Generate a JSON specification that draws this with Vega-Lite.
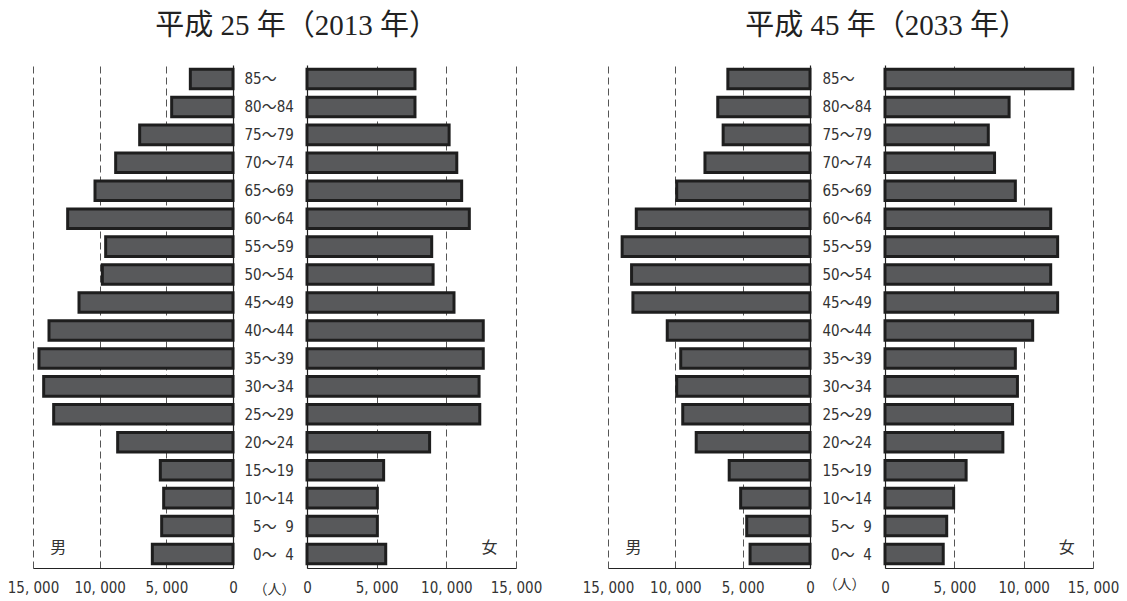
{
  "$schema": "https://vega.github.io/schema/vega-lite/v6.json",
  "background": "white",
  "padding": {"left": 7, "top": 12, "right": 5, "bottom": 5},
  "config": {
    "view": {"stroke": null},
    "axis": {
      "labelFont": "Liberation Sans Narrow, DejaVu Sans Condensed, Noto Sans CJK JP",
      "labelFontSize": 15,
      "labelColor": "#333333",
      "domainColor": "#222222",
      "domainWidth": 1.2,
      "tickColor": "#777777",
      "gridColor": "#555555",
      "gridDash": [7, 4],
      "gridWidth": 1
    },
    "title": {
      "font": "Liberation Serif, Noto Sans CJK JP",
      "fontSize": 29,
      "fontWeight": "normal",
      "color": "#222222",
      "anchor": "middle",
      "offset": 17
    }
  },
  "datasets": {
    "pop": [
      {"year": "2013", "sex": "男", "age": "85～", "pop": 3200},
      {"year": "2013", "sex": "男", "age": "80～84", "pop": 4600},
      {"year": "2013", "sex": "男", "age": "75～79", "pop": 7000},
      {"year": "2013", "sex": "男", "age": "70～74", "pop": 8800},
      {"year": "2013", "sex": "男", "age": "65～69", "pop": 10350},
      {"year": "2013", "sex": "男", "age": "60～64", "pop": 12400},
      {"year": "2013", "sex": "男", "age": "55～59", "pop": 9550},
      {"year": "2013", "sex": "男", "age": "50～54", "pop": 9800},
      {"year": "2013", "sex": "男", "age": "45～49", "pop": 11550},
      {"year": "2013", "sex": "男", "age": "40～44", "pop": 13800},
      {"year": "2013", "sex": "男", "age": "35～39", "pop": 14550},
      {"year": "2013", "sex": "男", "age": "30～34", "pop": 14200},
      {"year": "2013", "sex": "男", "age": "25～29", "pop": 13450},
      {"year": "2013", "sex": "男", "age": "20～24", "pop": 8650},
      {"year": "2013", "sex": "男", "age": "15～19", "pop": 5450},
      {"year": "2013", "sex": "男", "age": "10～14", "pop": 5200},
      {"year": "2013", "sex": "男", "age": "\u200b\u20075～\u20079", "pop": 5350},
      {"year": "2013", "sex": "男", "age": "\u200b\u20070～\u20074", "pop": 6050},
      {"year": "2013", "sex": "女", "age": "85～", "pop": 7750},
      {"year": "2013", "sex": "女", "age": "80～84", "pop": 7750},
      {"year": "2013", "sex": "女", "age": "75～79", "pop": 10200},
      {"year": "2013", "sex": "女", "age": "70～74", "pop": 10750},
      {"year": "2013", "sex": "女", "age": "65～69", "pop": 11100},
      {"year": "2013", "sex": "女", "age": "60～64", "pop": 11650},
      {"year": "2013", "sex": "女", "age": "55～59", "pop": 8950},
      {"year": "2013", "sex": "女", "age": "50～54", "pop": 9050},
      {"year": "2013", "sex": "女", "age": "45～49", "pop": 10550},
      {"year": "2013", "sex": "女", "age": "40～44", "pop": 12650},
      {"year": "2013", "sex": "女", "age": "35～39", "pop": 12650},
      {"year": "2013", "sex": "女", "age": "30～34", "pop": 12350},
      {"year": "2013", "sex": "女", "age": "25～29", "pop": 12400},
      {"year": "2013", "sex": "女", "age": "20～24", "pop": 8800},
      {"year": "2013", "sex": "女", "age": "15～19", "pop": 5500},
      {"year": "2013", "sex": "女", "age": "10～14", "pop": 5050},
      {"year": "2013", "sex": "女", "age": "\u200b\u20075～\u20079", "pop": 5050},
      {"year": "2013", "sex": "女", "age": "\u200b\u20070～\u20074", "pop": 5650},
      {"year": "2033", "sex": "男", "age": "85～", "pop": 6100},
      {"year": "2033", "sex": "男", "age": "80～84", "pop": 6850},
      {"year": "2033", "sex": "男", "age": "75～79", "pop": 6450},
      {"year": "2033", "sex": "男", "age": "70～74", "pop": 7800},
      {"year": "2033", "sex": "男", "age": "65～69", "pop": 9900},
      {"year": "2033", "sex": "男", "age": "60～64", "pop": 12900},
      {"year": "2033", "sex": "男", "age": "55～59", "pop": 13950},
      {"year": "2033", "sex": "男", "age": "50～54", "pop": 13250},
      {"year": "2033", "sex": "男", "age": "45～49", "pop": 13150},
      {"year": "2033", "sex": "男", "age": "40～44", "pop": 10600},
      {"year": "2033", "sex": "男", "age": "35～39", "pop": 9600},
      {"year": "2033", "sex": "男", "age": "30～34", "pop": 9900},
      {"year": "2033", "sex": "男", "age": "25～29", "pop": 9450},
      {"year": "2033", "sex": "男", "age": "20～24", "pop": 8450},
      {"year": "2033", "sex": "男", "age": "15～19", "pop": 6000},
      {"year": "2033", "sex": "男", "age": "10～14", "pop": 5150},
      {"year": "2033", "sex": "男", "age": "\u200b\u20075～\u20079", "pop": 4700},
      {"year": "2033", "sex": "男", "age": "\u200b\u20070～\u20074", "pop": 4450},
      {"year": "2033", "sex": "女", "age": "85～", "pop": 13550},
      {"year": "2033", "sex": "女", "age": "80～84", "pop": 8950},
      {"year": "2033", "sex": "女", "age": "75～79", "pop": 7450},
      {"year": "2033", "sex": "女", "age": "70～74", "pop": 7900},
      {"year": "2033", "sex": "女", "age": "65～69", "pop": 9400},
      {"year": "2033", "sex": "女", "age": "60～64", "pop": 11950},
      {"year": "2033", "sex": "女", "age": "55～59", "pop": 12450},
      {"year": "2033", "sex": "女", "age": "50～54", "pop": 11950},
      {"year": "2033", "sex": "女", "age": "45～49", "pop": 12450},
      {"year": "2033", "sex": "女", "age": "40～44", "pop": 10650},
      {"year": "2033", "sex": "女", "age": "35～39", "pop": 9400},
      {"year": "2033", "sex": "女", "age": "30～34", "pop": 9550},
      {"year": "2033", "sex": "女", "age": "25～29", "pop": 9200},
      {"year": "2033", "sex": "女", "age": "20～24", "pop": 8500},
      {"year": "2033", "sex": "女", "age": "15～19", "pop": 5850},
      {"year": "2033", "sex": "女", "age": "10～14", "pop": 4950},
      {"year": "2033", "sex": "女", "age": "\u200b\u20075～\u20079", "pop": 4450},
      {"year": "2033", "sex": "女", "age": "\u200b\u20070～\u20074", "pop": 4200}
    ]
  },
  "spacing": 40,
  "hconcat": [
    {
      "title": {"text": "平成 25 年（2013 年）", "dx": 22},
      "bounds": "flush",
      "spacing": 74,
      "hconcat": [
        {
          "width": 200,
          "height": 503,
          "layer": [
            {
              "data": {"name": "pop"},
              "transform": [{"filter": "datum.year == '2013' && datum.sex == '男'"}],
              "mark": {"type": "bar", "fill": "#58595b", "stroke": "#1e1e1e", "strokeWidth": 3},
              "encoding": {
                "x": {"field": "pop", "type": "quantitative",
                  "scale": {"domain": [0, 15000], "reverse": true, "nice": false},
                  "axis": {"values": [0, 5000, 10000, 15000], "grid": true, "ticks": false, "labelExpr": "replace(format(datum.value, ','), ',', ', ')", "labelFlush": false, "labelOverlap": false, "labelPadding": 12,
                    "title": "（人）", "titleX": 241, "titleY": 21, "titleAlign": "center", "titleBaseline": "middle", "titleFont": "Noto Sans CJK JP", "titleFontSize": 14, "titleFontWeight": "normal", "titleColor": "#333333"}},
                "y": {"field": "age", "type": "nominal", "sort": null,
                  "scale": {"paddingInner": 0.3, "paddingOuter": 0.15},
                  "axis": {"orient": "right", "labels": false, "title": null, "tickSize": -5, "tickBand": "extent"}}
              }
            },
            {
              "data": {"values": [{"label": "男", "age": "\u200b\u20070～\u20074", "pos": 13100}]},
              "mark": {"type": "text", "font": "Noto Sans CJK JP", "fontSize": 16, "color": "#333333", "dy": -6},
              "encoding": {
                "x": {"field": "pos", "type": "quantitative"},
                "y": {"field": "age", "type": "nominal", "sort": null},
                "text": {"field": "label"}
              }
            }
          ]
        },
        {
          "width": 209,
          "height": 503,
          "layer": [
            {
              "data": {"name": "pop"},
              "transform": [{"filter": "datum.year == '2013' && datum.sex == '女'"}],
              "mark": {"type": "bar", "fill": "#58595b", "stroke": "#1e1e1e", "strokeWidth": 3},
              "encoding": {
                "x": {"field": "pop", "type": "quantitative",
                  "scale": {"domain": [0, 15000], "nice": false},
                  "axis": {"values": [0, 5000, 10000, 15000], "grid": true, "ticks": false, "labelExpr": "replace(format(datum.value, ','), ',', ', ')", "labelFlush": false, "labelOverlap": false, "labelPadding": 12, "title": null}},
                "y": {"field": "age", "type": "nominal", "sort": null,
                  "scale": {"paddingInner": 0.3, "paddingOuter": 0.15},
                  "axis": {"orient": "left", "title": null, "tickSize": -5, "tickBand": "extent", "labelAlign": "left", "labelPadding": 68}}
              }
            },
            {
              "data": {"values": [{"label": "女", "age": "\u200b\u20070～\u20074", "pos": 13100}]},
              "mark": {"type": "text", "font": "Noto Sans CJK JP", "fontSize": 16, "color": "#333333", "dy": -6},
              "encoding": {
                "x": {"field": "pos", "type": "quantitative"},
                "y": {"field": "age", "type": "nominal", "sort": null},
                "text": {"field": "label"}
              }
            }
          ]
        }
      ]
    },
    {
      "title": {"text": "平成 45 年（2033 年）", "dx": 36},
      "bounds": "flush",
      "spacing": 75,
      "hconcat": [
        {
          "width": 202,
          "height": 503,
          "layer": [
            {
              "data": {"name": "pop"},
              "transform": [{"filter": "datum.year == '2033' && datum.sex == '男'"}],
              "mark": {"type": "bar", "fill": "#58595b", "stroke": "#1e1e1e", "strokeWidth": 3},
              "encoding": {
                "x": {"field": "pop", "type": "quantitative",
                  "scale": {"domain": [0, 15000], "reverse": true, "nice": false},
                  "axis": {"values": [0, 5000, 10000, 15000], "grid": true, "ticks": false, "labelExpr": "replace(format(datum.value, ','), ',', ', ')", "labelFlush": false, "labelOverlap": false, "labelPadding": 12,
                    "title": "（人）", "titleX": 236, "titleY": 16, "titleAlign": "center", "titleBaseline": "middle", "titleFont": "Noto Sans CJK JP", "titleFontSize": 14, "titleFontWeight": "normal", "titleColor": "#333333"}},
                "y": {"field": "age", "type": "nominal", "sort": null,
                  "scale": {"paddingInner": 0.3, "paddingOuter": 0.15},
                  "axis": {"orient": "right", "labels": false, "title": null, "tickSize": -5, "tickBand": "extent"}}
              }
            },
            {
              "data": {"values": [{"label": "男", "age": "\u200b\u20070～\u20074", "pos": 13100}]},
              "mark": {"type": "text", "font": "Noto Sans CJK JP", "fontSize": 16, "color": "#333333", "dy": -6},
              "encoding": {
                "x": {"field": "pos", "type": "quantitative"},
                "y": {"field": "age", "type": "nominal", "sort": null},
                "text": {"field": "label"}
              }
            }
          ]
        },
        {
          "width": 208,
          "height": 503,
          "layer": [
            {
              "data": {"name": "pop"},
              "transform": [{"filter": "datum.year == '2033' && datum.sex == '女'"}],
              "mark": {"type": "bar", "fill": "#58595b", "stroke": "#1e1e1e", "strokeWidth": 3},
              "encoding": {
                "x": {"field": "pop", "type": "quantitative",
                  "scale": {"domain": [0, 15000], "nice": false},
                  "axis": {"values": [0, 5000, 10000, 15000], "grid": true, "ticks": false, "labelExpr": "replace(format(datum.value, ','), ',', ', ')", "labelFlush": false, "labelOverlap": false, "labelPadding": 12, "title": null}},
                "y": {"field": "age", "type": "nominal", "sort": null,
                  "scale": {"paddingInner": 0.3, "paddingOuter": 0.15},
                  "axis": {"orient": "left", "title": null, "tickSize": -5, "tickBand": "extent", "labelAlign": "left", "labelPadding": 68}}
              }
            },
            {
              "data": {"values": [{"label": "女", "age": "\u200b\u20070～\u20074", "pos": 13100}]},
              "mark": {"type": "text", "font": "Noto Sans CJK JP", "fontSize": 16, "color": "#333333", "dy": -6},
              "encoding": {
                "x": {"field": "pos", "type": "quantitative"},
                "y": {"field": "age", "type": "nominal", "sort": null},
                "text": {"field": "label"}
              }
            }
          ]
        }
      ]
    }
  ]
}
